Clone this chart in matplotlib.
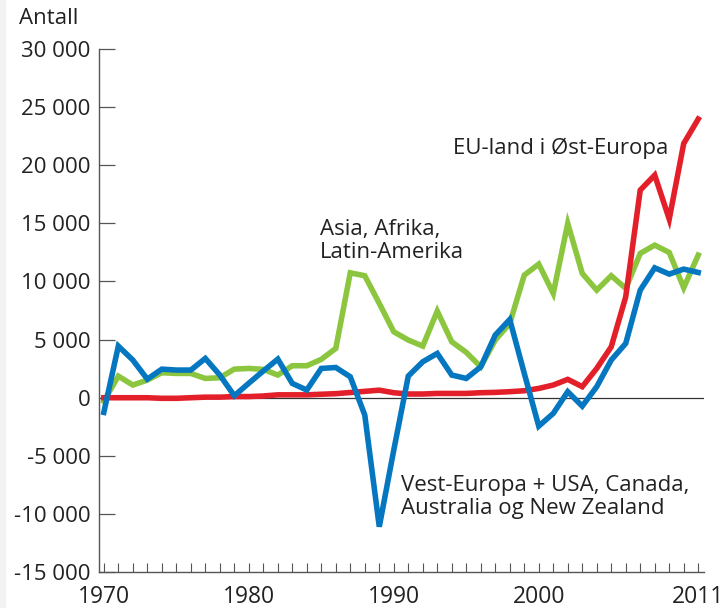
import matplotlib.pyplot as plt
from matplotlib.patches import Rectangle
from matplotlib.ticker import FuncFormatter, MultipleLocator

plt.rcParams['font.family'] = ['Open Sans', 'DejaVu Sans']

years = list(range(1970, 2012))

# Vest-Europa + USA, Canada, Australia og New Zealand
vest = [-1260, 4440, 3240, 1600, 2460, 2380, 2380, 3380, 1950, 170,
        1250, 2300, 3320, 1230, 660, 2520, 2600, 1800, -1490, -11090,
        -4500, 1860, 3090, 3810, 1950, 1660, 2660, 5390, 6730, 2100,
        -2440, -1350, 520, -720, 950, 3240, 4670, 9250, 11170, 10630,
        11060, 10770]

# Asia, Afrika, Latin-Amerika
asia = [-300, 1860, 1090, 1520, 2150, 2090, 2090, 1660, 1720, 2460,
        2520, 2440, 1950, 2750, 2750, 3300, 4240, 10740, 10490, 8110,
        5670, 4960, 4440, 7450, 4810, 3900, 2660, 4960, 6390, 10540,
        11490, 8970, 14990, 10690, 9250, 10490, 9400, 12410, 13120, 12490,
        9460, 12260]

# EU-land i Øst-Europa
eu = [0, 0, 0, 0, -50, -50, 0, 50, 50, 100,
      100, 150, 250, 250, 250, 300, 350, 450, 550, 650,
      430, 320, 320, 370, 370, 370, 430, 460, 520, 600,
      800, 1090, 1580, 950, 2520, 4380, 8680, 17850, 19140, 15360,
      21860, 23960]

fig = plt.figure(figsize=(7.24, 6.08), dpi=100)
fig.patches.append(Rectangle((0, 0), 5 / 724, 1, transform=fig.transFigure,
                             color='#f2f2f2', zorder=0))
ax = fig.add_axes([0.1374, 0.0589, 0.835, 0.8608])

ax.plot(years, asia, color='#8cc63f', lw=4, solid_joinstyle='miter', zorder=3)
ax.plot(years, eu, color='#e3202a', lw=4, solid_joinstyle='miter', zorder=4)
ax.plot(years, vest, color='#0576c0', lw=4, solid_joinstyle='miter', zorder=5)
ax.axhline(0, color='#333333', lw=0.9, zorder=2)

ax.set_xlim(1969.7, 2011.4)
ax.set_ylim(-15000, 30000)

ax.set_xticks([1970, 1980, 1990, 2000, 2011])
ax.xaxis.set_minor_locator(MultipleLocator(1))
ax.yaxis.set_major_locator(MultipleLocator(5000))
ax.yaxis.set_major_formatter(FuncFormatter(lambda v, p: f"{int(v):,}".replace(",", " ")))

for s in ['top', 'right']:
    ax.spines[s].set_visible(False)
for s in ['left', 'bottom']:
    ax.spines[s].set_color('#555555')
    ax.spines[s].set_linewidth(1)

ax.tick_params(axis='x', which='both', direction='in', length=6.2, width=0.8,
               color='#555555', labelsize=16.5, pad=9, labelcolor='#222222')
ax.tick_params(axis='y', direction='in', length=11.5, width=0.9,
               color='#555555', labelsize=16, pad=6.5, labelcolor='#222222')

ax.text(1994.06, 21440, 'EU-land i Øst-Europa', fontsize=16, color='#222222',
        ha='left', va='center')
ax.text(1984.9, 13470, 'Asia, Afrika,\nLatin-Amerika', fontsize=16, color='#222222',
        ha='left', va='center', linespacing=1.1)
ax.text(1990.5, -8540, 'Vest-Europa + USA, Canada,\nAustralia og New Zealand', fontsize=16,
        color='#222222', ha='left', va='center', linespacing=1.1)

fig.text(19 / 724, 1 - 18 / 608, 'Antall', fontsize=16, color='#222222',
         ha='left', va='center')

fig.savefig('out.png', dpi=100)
